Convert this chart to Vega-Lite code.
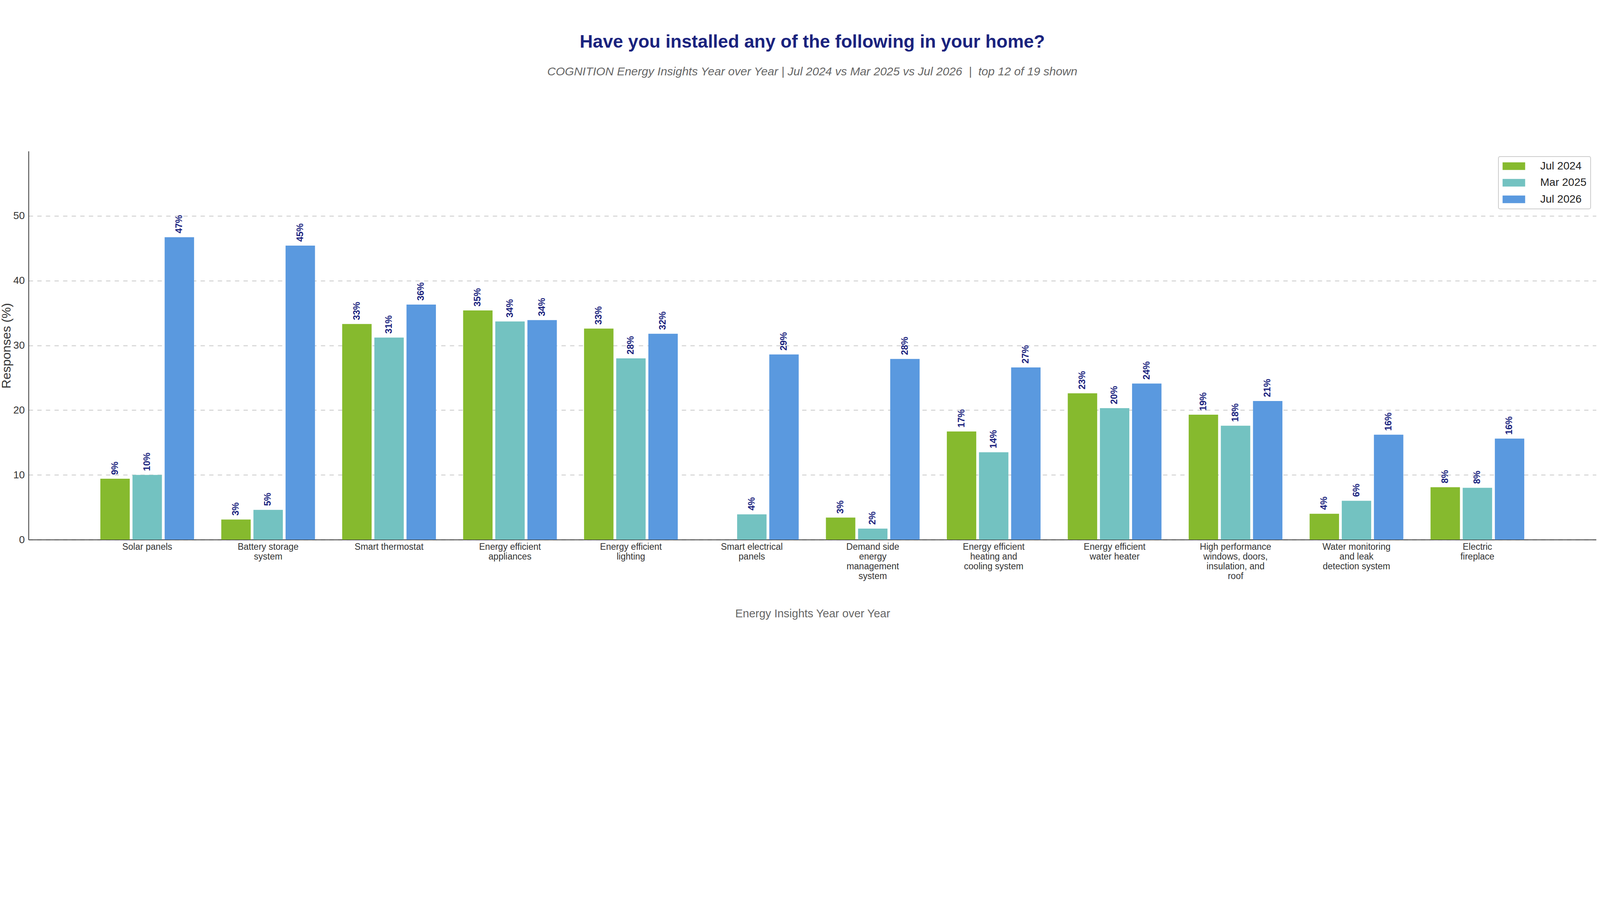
{
  "$schema": "https://vega.github.io/schema/vega-lite/v6.json",
  "width": 4181,
  "height": 1636,
  "autosize": {"type": "fit", "contains": "padding"},
  "padding": {"left": 0, "top": 85, "right": 95, "bottom": 50},
  "background": "white",
  "title": {
    "text": "Have you installed any of the following in your home?",
    "subtitle": "COGNITION Energy Insights Year over Year | Jul 2024 vs Mar 2025 vs Jul 2026 \u00a0|\u00a0 top 12 of 19 shown",
    "anchor": "middle",
    "frame": "group",
    "offset": 188,
    "fontSize": 46.5,
    "fontWeight": "bold",
    "color": "#1a237e",
    "subtitleFontSize": 30,
    "subtitleFontStyle": "italic",
    "subtitleColor": "#666666",
    "subtitlePadding": 37.5
  },
  "data": {
    "values": [
      {"item": "Solar panels", "wave": "Jul 2024", "value": 9.4, "label": "9%"},
      {"item": "Solar panels", "wave": "Mar 2025", "value": 10.0, "label": "10%"},
      {"item": "Solar panels", "wave": "Jul 2026", "value": 46.7, "label": "47%"},
      {"item": "Battery storage\nsystem", "wave": "Jul 2024", "value": 3.1, "label": "3%"},
      {"item": "Battery storage\nsystem", "wave": "Mar 2025", "value": 4.6, "label": "5%"},
      {"item": "Battery storage\nsystem", "wave": "Jul 2026", "value": 45.4, "label": "45%"},
      {"item": "Smart thermostat", "wave": "Jul 2024", "value": 33.3, "label": "33%"},
      {"item": "Smart thermostat", "wave": "Mar 2025", "value": 31.2, "label": "31%"},
      {"item": "Smart thermostat", "wave": "Jul 2026", "value": 36.3, "label": "36%"},
      {"item": "Energy efficient\nappliances", "wave": "Jul 2024", "value": 35.4, "label": "35%"},
      {"item": "Energy efficient\nappliances", "wave": "Mar 2025", "value": 33.7, "label": "34%"},
      {"item": "Energy efficient\nappliances", "wave": "Jul 2026", "value": 33.9, "label": "34%"},
      {"item": "Energy efficient\nlighting", "wave": "Jul 2024", "value": 32.6, "label": "33%"},
      {"item": "Energy efficient\nlighting", "wave": "Mar 2025", "value": 28.0, "label": "28%"},
      {"item": "Energy efficient\nlighting", "wave": "Jul 2026", "value": 31.8, "label": "32%"},
      {"item": "Smart electrical\npanels", "wave": "Mar 2025", "value": 3.9, "label": "4%"},
      {"item": "Smart electrical\npanels", "wave": "Jul 2026", "value": 28.6, "label": "29%"},
      {"item": "Demand side\nenergy\nmanagement\nsystem", "wave": "Jul 2024", "value": 3.4, "label": "3%"},
      {"item": "Demand side\nenergy\nmanagement\nsystem", "wave": "Mar 2025", "value": 1.7, "label": "2%"},
      {"item": "Demand side\nenergy\nmanagement\nsystem", "wave": "Jul 2026", "value": 27.9, "label": "28%"},
      {"item": "Energy efficient\nheating and\ncooling system", "wave": "Jul 2024", "value": 16.7, "label": "17%"},
      {"item": "Energy efficient\nheating and\ncooling system", "wave": "Mar 2025", "value": 13.5, "label": "14%"},
      {"item": "Energy efficient\nheating and\ncooling system", "wave": "Jul 2026", "value": 26.6, "label": "27%"},
      {"item": "Energy efficient\nwater heater", "wave": "Jul 2024", "value": 22.6, "label": "23%"},
      {"item": "Energy efficient\nwater heater", "wave": "Mar 2025", "value": 20.3, "label": "20%"},
      {"item": "Energy efficient\nwater heater", "wave": "Jul 2026", "value": 24.1, "label": "24%"},
      {"item": "High performance\nwindows, doors,\ninsulation, and\nroof", "wave": "Jul 2024", "value": 19.3, "label": "19%"},
      {"item": "High performance\nwindows, doors,\ninsulation, and\nroof", "wave": "Mar 2025", "value": 17.6, "label": "18%"},
      {"item": "High performance\nwindows, doors,\ninsulation, and\nroof", "wave": "Jul 2026", "value": 21.4, "label": "21%"},
      {"item": "Water monitoring\nand leak\ndetection system", "wave": "Jul 2024", "value": 4.0, "label": "4%"},
      {"item": "Water monitoring\nand leak\ndetection system", "wave": "Mar 2025", "value": 6.0, "label": "6%"},
      {"item": "Water monitoring\nand leak\ndetection system", "wave": "Jul 2026", "value": 16.2, "label": "16%"},
      {"item": "Electric\nfireplace", "wave": "Jul 2024", "value": 8.1, "label": "8%"},
      {"item": "Electric\nfireplace", "wave": "Mar 2025", "value": 8.0, "label": "8%"},
      {"item": "Electric\nfireplace", "wave": "Jul 2026", "value": 15.6, "label": "16%"}
    ]
  },
  "encoding": {
    "x": {
      "field": "item",
      "type": "nominal",
      "sort": null,
      "scale": {"paddingInner": 0.225, "paddingOuter": 0.594},
      "axis": {
        "labelExpr": "split(datum.value, '\\n')",
        "labelAngle": 0,
        "labelFontSize": 23,
        "labelLineHeight": 25,
        "labelColor": "#333333",
        "labelPadding": 7,
        "labelLimit": 0,
        "labelOverlap": false,
        "ticks": false,
        "domainColor": "#333333",
        "domainWidth": 2,
        "title": "Energy Insights Year over Year",
        "titleFontSize": 29,
        "titleFontWeight": "normal",
        "titleColor": "#666666",
        "titleX": 2007,
        "titleY": 198,
        "titleAlign": "center",
        "titleBaseline": "alphabetic"
      }
    },
    "xOffset": {
      "field": "wave",
      "type": "nominal",
      "sort": ["Jul 2024", "Mar 2025", "Jul 2026"],
      "scale": {"paddingInner": 0.085, "paddingOuter": 0}
    },
    "y": {
      "field": "value",
      "type": "quantitative",
      "scale": {"domain": [0, 60], "nice": false},
      "axis": {
        "values": [0, 10, 20, 30, 40, 50],
        "grid": true,
        "gridColor": "#c8c8c8",
        "gridDash": [11, 11],
        "gridWidth": 2,
        "ticks": false,
        "domainColor": "#333333",
        "domainWidth": 2,
        "labelFontSize": 26.5,
        "labelColor": "#333333",
        "labelPadding": 10,
        "title": "Responses (%)",
        "titleFontSize": 32,
        "titleFontWeight": "normal",
        "titleColor": "#333333",
        "titleX": -47,
        "titleY": 498,
        "titleAngle": 270,
        "titleAlign": "center",
        "titleBaseline": "alphabetic"
      }
    }
  },
  "layer": [
    {
      "mark": {"type": "bar"},
      "encoding": {
        "color": {
          "field": "wave",
          "type": "nominal",
          "sort": ["Jul 2024", "Mar 2025", "Jul 2026"],
          "scale": {
            "domain": ["Jul 2024", "Mar 2025", "Jul 2026"],
            "range": ["#86ba2e", "#73c2c1", "#5a99df"]
          },
          "legend": {
            "orient": "top-right",
            "offset": 14,
            "title": null,
            "fillColor": "white",
            "strokeColor": "#cccccc",
            "cornerRadius": 4,
            "padding": 10.5,
            "labelFontSize": 28,
            "labelColor": "#222222",
            "symbolType": "M-2.075,-0.7H2.075V0.7H-2.075Z",
            "symbolSize": 775,
            "symbolStrokeWidth": 0,
            "symbolOpacity": 1,
            "symbolOffset": 15,
            "labelOffset": 53.5,
            "rowPadding": 14.5
          }
        }
      }
    },
    {
      "mark": {
        "type": "text",
        "angle": 270,
        "align": "left",
        "baseline": "middle",
        "dx": 10,
        "fontSize": 23.5,
        "fontWeight": "bold",
        "color": "#1a237e"
      },
      "encoding": {
        "text": {"field": "label", "type": "nominal"}
      }
    }
  ],
  "config": {
    "font": "Liberation Sans",
    "view": {"stroke": null},
    "legend": {"strokeWidth": 2}
  }
}
